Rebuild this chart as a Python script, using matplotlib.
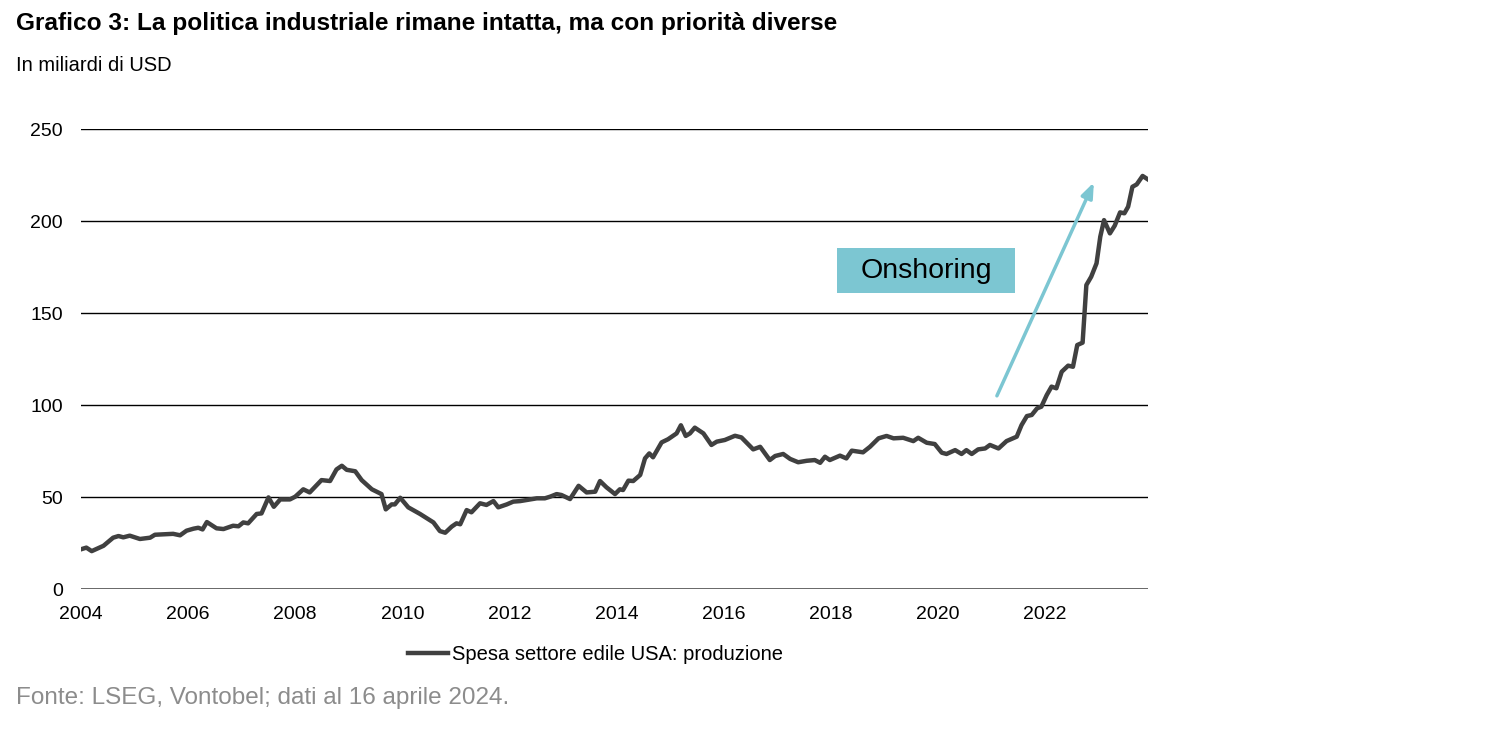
import matplotlib
matplotlib.use("Agg")
import matplotlib.pyplot as plt
from matplotlib.patches import Rectangle

plt.rcParams['font.family'] = ['Liberation Sans', 'DejaVu Sans']

# valori (anno decimale, miliardi USD)
years = [2004.00, 2004.10, 2004.20, 2004.42, 2004.60, 2004.70, 2004.79, 2004.91,
         2005.10, 2005.29, 2005.38, 2005.72, 2005.85, 2005.97, 2006.10, 2006.19,
         2006.27, 2006.35, 2006.53, 2006.66, 2006.84, 2006.94, 2007.03, 2007.12,
         2007.28, 2007.37, 2007.50, 2007.60, 2007.72, 2007.90, 2008.00, 2008.15,
         2008.27, 2008.49, 2008.65, 2008.77, 2008.87, 2008.96, 2009.12, 2009.24,
         2009.43, 2009.61, 2009.69, 2009.80, 2009.86, 2009.96, 2010.11, 2010.33,
         2010.58, 2010.70, 2010.80, 2010.92, 2011.01, 2011.08, 2011.20, 2011.29,
         2011.45, 2011.57, 2011.70, 2011.79, 2011.95, 2012.07, 2012.20, 2012.38,
         2012.51, 2012.66, 2012.76, 2012.88, 2012.97, 2013.13, 2013.29, 2013.44,
         2013.60, 2013.69, 2013.81, 2013.97, 2014.06, 2014.12, 2014.22, 2014.31,
         2014.44, 2014.53, 2014.61, 2014.68, 2014.84, 2014.96, 2015.12, 2015.20,
         2015.29, 2015.37, 2015.46, 2015.62, 2015.77, 2015.87, 2016.02, 2016.21,
         2016.33, 2016.55, 2016.68, 2016.86, 2016.96, 2017.11, 2017.24, 2017.39,
         2017.55, 2017.70, 2017.80, 2017.89, 2017.98, 2018.17, 2018.29, 2018.39,
         2018.60, 2018.73, 2018.89, 2019.04, 2019.17, 2019.35, 2019.54, 2019.63,
         2019.79, 2019.94, 2020.07, 2020.16, 2020.32, 2020.44, 2020.53, 2020.63,
         2020.75, 2020.88, 2020.97, 2021.13, 2021.28, 2021.47, 2021.56, 2021.66,
         2021.75, 2021.85, 2021.93, 2022.03, 2022.12, 2022.21, 2022.31, 2022.43,
         2022.52, 2022.60, 2022.70, 2022.77, 2022.86, 2022.96, 2023.03, 2023.10,
         2023.21, 2023.30, 2023.40, 2023.48, 2023.55, 2023.63, 2023.71, 2023.82,
         2023.91]
spesa = [21.6, 22.5, 20.6, 23.5, 27.9, 28.8, 28.1, 29.0,
         27.2, 27.9, 29.5, 30.0, 29.2, 31.7, 32.8, 33.3,
         32.4, 36.4, 33.0, 32.6, 34.4, 34.1, 36.2, 35.7,
         40.8, 41.1, 49.8, 44.7, 48.7, 48.7, 50.2, 54.2,
         52.5, 59.2, 58.7, 65.0, 67.0, 64.8, 64.0, 59.2,
         54.2, 51.6, 43.3, 46.0, 46.0, 49.6, 44.4, 40.8,
         36.2, 31.5, 30.6, 33.9, 35.7, 35.2, 42.9, 41.7,
         46.6, 45.7, 47.8, 44.4, 46.0, 47.5, 47.8, 48.7,
         49.3, 49.3, 50.2, 51.6, 51.1, 48.9, 56.1, 52.5,
         52.9, 58.7, 55.3, 51.6, 54.2, 53.8, 58.9, 58.7,
         62.0, 71.0, 73.7, 71.6, 79.7, 81.4, 84.6, 89.0,
         83.2, 84.6, 87.7, 84.6, 78.3, 80.1, 81.0, 83.3,
         82.4, 75.9, 77.3, 70.1, 72.3, 73.4, 70.7, 68.9,
         69.7, 70.1, 68.6, 71.9, 70.1, 72.5, 71.0, 75.2,
         74.3, 77.3, 81.9, 83.2, 81.9, 82.2, 80.4, 82.2,
         79.5, 78.8, 74.1, 73.4, 75.5, 73.4, 75.5, 73.4,
         75.9, 76.4, 78.3, 76.4, 80.4, 82.8, 89.1, 94.0,
         94.6, 98.2, 99.1, 105.4, 110.0, 109.1, 118.1, 121.4,
         120.8, 132.6, 133.9, 165.2, 169.7, 177.0, 191.5, 200.5,
         193.3, 197.5, 204.7, 204.2, 207.8, 218.6, 219.9, 224.5,
         222.8]

x_ticks = [2004, 2006, 2008, 2010, 2012, 2014, 2016, 2018, 2020, 2022]
y_ticks = [0, 50, 100, 150, 200, 250]

# freccia "Onshoring": inizio e fine
arrow_start = (2021.10, 105)
arrow_end = (2022.91, 221)

fig = plt.figure(figsize=(15, 7.29), dpi=100)
ax = fig.add_axes([0.054, 0.192, 0.7113, 0.631])

for v in y_ticks[1:]:
    ax.axhline(v, color='black', lw=1.0, zorder=1)
ax.axhline(0, color='#595959', lw=2.0, zorder=1)

ax.plot(years, spesa, color='#404040', lw=3.2, solid_joinstyle='round',
        label='Spesa settore edile USA: produzione', zorder=3)

ax.set_xlim(2004, 2023.92)
ax.set_ylim(0, 250)
ax.set_xticks(x_ticks)
ax.set_yticks(y_ticks)
ax.tick_params(axis='both', length=0, labelsize=14, colors='black')
ax.tick_params(axis='x', pad=12)
ax.tick_params(axis='y', pad=13)
for s in ax.spines.values():
    s.set_visible(False)

ax.annotate('', xy=arrow_end, xytext=arrow_start,
            arrowprops=dict(arrowstyle='-|>,head_length=0.9,head_width=0.35',
                            color='#7cc6d2', lw=2.5, shrinkA=0, shrinkB=0),
            zorder=4)
ax.add_patch(Rectangle((2018.115, 160.9), 3.325, 24.4, fc='#7cc6d2', ec='none', zorder=5))
ax.text(2019.78, 173.1, 'Onshoring', fontsize=20.5, ha='center', va='center', zorder=6)

fig.text(0.0107, 0.968, 'Grafico 3: La politica industriale rimane intatta, ma con priorità diverse',
         fontsize=17.6, fontweight='bold', ha='left', va='center')
fig.text(0.0107, 0.91, 'In miliardi di USD', fontsize=14.5, ha='left', va='center')
fig.text(0.0107, 0.042, 'Fonte: LSEG, Vontobel; dati al 16 aprile 2024.',
         fontsize=17.5, color='#8c8c8c', ha='left', va='center')

fig.legend(loc='center', bbox_to_anchor=(0.397, 1 - 655 / 729), frameon=False,
           fontsize=14.5, handlelength=2.0, handletextpad=0.2)

fig.savefig('out.png', dpi=100)
